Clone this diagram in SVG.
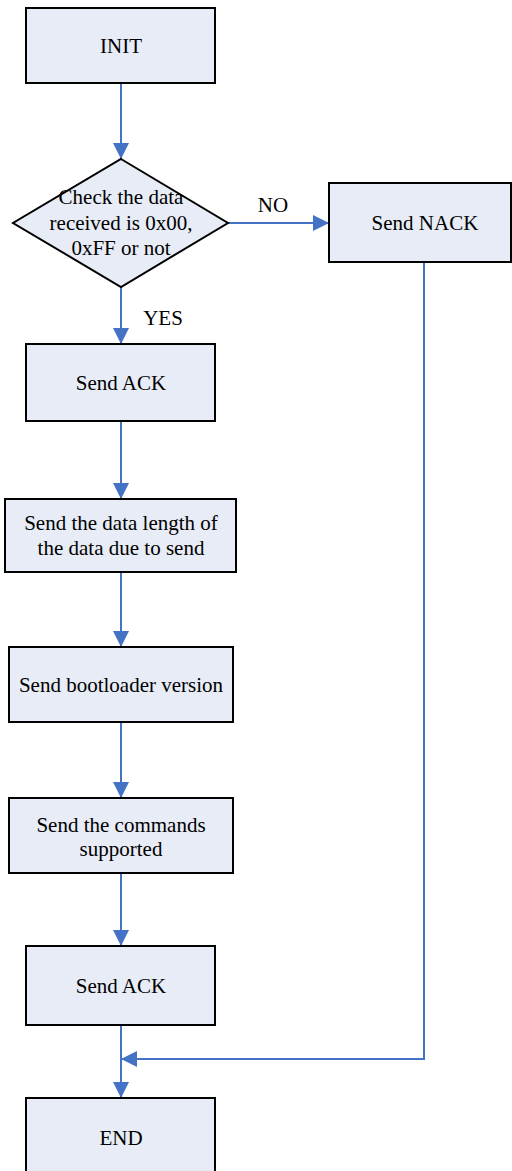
<svg xmlns="http://www.w3.org/2000/svg" width="512" height="1171" viewBox="0 0 512 1171" font-family="'Liberation Serif', 'Times New Roman', serif">
<style>
.n{fill:#E7ECF6;stroke:#000;stroke-width:2}
text{font-family:"Liberation Serif","Times New Roman",serif;font-size:21px;fill:#000;text-anchor:middle}
.c{fill:none;stroke:#4472C4;stroke-width:2}
</style>
<defs>
<marker id="ah" markerUnits="userSpaceOnUse" markerWidth="16" markerHeight="16" refX="14" refY="7" orient="auto" viewBox="0 0 14 14">
<path d="M0,0 L14,7 L0,14 Z" fill="#4472C4"/>
</marker>
</defs>
<rect width="512" height="1171" fill="#fff"/>
<g id="connectors">
<path class="c" d="M121,83 V159" marker-end="url(#ah)"/>
<path class="c" d="M228,223 H329" marker-end="url(#ah)"/>
<path class="c" d="M121,287 V344" marker-end="url(#ah)"/>
<path class="c" d="M121,421 V499" marker-end="url(#ah)"/>
<path class="c" d="M121,572 V647" marker-end="url(#ah)"/>
<path class="c" d="M121,722 V798" marker-end="url(#ah)"/>
<path class="c" d="M121,873 V946" marker-end="url(#ah)"/>
<path class="c" d="M121,1025 V1098" marker-end="url(#ah)"/>
<path class="c" d="M424,262 V1059 H121" marker-end="url(#ah)"/>
<text x="273" y="212">NO</text>
<text x="163" y="325">YES</text>
</g>
<g id="init">
<rect class="n" x="26" y="8" width="189" height="75"/>
<text x="121" y="53">INIT</text>
</g>
<g id="check">
<polygon class="n" points="121,159 228,223 121,287 13,223"/>
<text x="121" y="204">Check the data</text>
<text x="121" y="229.5">received is 0x00,</text>
<text x="121" y="255">0xFF or not</text>
</g>
<g id="nack">
<rect class="n" x="329" y="183" width="182" height="79"/>
<text x="425" y="230">Send NACK</text>
</g>
<g id="ack1">
<rect class="n" x="26" y="344" width="189" height="77"/>
<text x="121" y="390">Send ACK</text>
</g>
<g id="length">
<rect class="n" x="5" y="499" width="231" height="73"/>
<text x="121" y="530">Send the data length of</text>
<text x="121" y="555">the data due to send</text>
</g>
<g id="version">
<rect class="n" x="9" y="647" width="224" height="75"/>
<text x="121" y="692">Send bootloader version</text>
</g>
<g id="commands">
<rect class="n" x="9" y="798" width="224" height="75"/>
<text x="121" y="832">Send the commands</text>
<text x="121" y="856">supported</text>
</g>
<g id="ack2">
<rect class="n" x="26" y="946" width="189" height="79"/>
<text x="121" y="993">Send ACK</text>
</g>
<g id="end">
<rect class="n" x="26" y="1098" width="189" height="80"/>
<text x="121" y="1145">END</text>
</g>
</svg>
